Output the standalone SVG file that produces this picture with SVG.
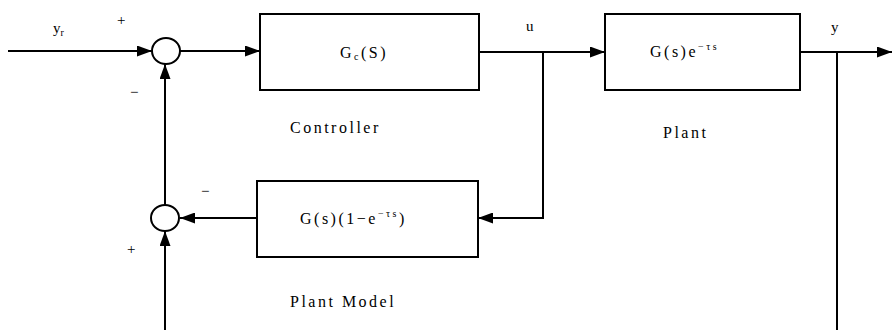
<svg xmlns="http://www.w3.org/2000/svg" width="892" height="330" viewBox="0 0 892 330">
<style>
.ln{stroke:#000;stroke-width:2;fill:none}
.bx{stroke:#000;stroke-width:2;fill:#fff}
.t{font-family:"Liberation Serif",serif;font-size:15px;fill:#000}
.b{font-family:"Liberation Serif",serif;font-size:16px;fill:#000;letter-spacing:2.5px}
.s{font-size:10px}
</style>
<defs>
<marker id="ar" viewBox="0 0 15 11" refX="15" refY="5.5" markerWidth="15" markerHeight="11" markerUnits="userSpaceOnUse" orient="auto">
<path d="M0,0 L15,5.5 L0,11 Z" fill="#000"/>
</marker>
</defs>
<rect width="892" height="330" fill="#fff"/>
<g id="connectors">
<line class="ln" x1="8" y1="51" x2="152" y2="51" marker-end="url(#ar)"/>
<line class="ln" x1="180" y1="51" x2="260" y2="51" marker-end="url(#ar)"/>
<line class="ln" x1="479" y1="52" x2="605" y2="52" marker-end="url(#ar)"/>
<line class="ln" x1="800" y1="52" x2="892" y2="52" marker-end="url(#ar)"/>
<polyline class="ln" points="543,52 543,218 478,218" marker-end="url(#ar)"/>
<line class="ln" x1="257" y1="218" x2="180" y2="218" marker-end="url(#ar)"/>
<line class="ln" x1="165" y1="205" x2="165" y2="64" marker-end="url(#ar)"/>
<line class="ln" x1="837" y1="52" x2="837" y2="330"/>
<line class="ln" x1="165" y1="330" x2="165" y2="231" marker-end="url(#ar)"/>
</g>
<g id="sum1">
<ellipse class="bx" cx="166" cy="51" rx="14" ry="13"/>
<text class="t" x="117" y="25">+</text>
<text class="t" x="130" y="97">−</text>
</g>
<g id="sum2">
<ellipse class="bx" cx="165" cy="218" rx="14" ry="13"/>
<text class="t" x="201" y="196">−</text>
<text class="t" x="127" y="254">+</text>
</g>
<g id="controller">
<rect class="bx" x="260" y="14" width="219" height="76"/>
<text class="b" x="340" y="58">G<tspan class="s" dy="2">c</tspan><tspan dy="-2">(S)</tspan></text>
<text class="b" x="290" y="133">Controller</text>
</g>
<g id="plant">
<rect class="bx" x="605" y="14" width="195" height="76"/>
<text class="b" x="650" y="57">G(s)e<tspan class="s" dy="-7">−τs</tspan></text>
<text class="b" x="663" y="138">Plant</text>
</g>
<g id="model">
<rect class="bx" x="257" y="181" width="221" height="76"/>
<text class="b" x="300" y="224">G(s)(1−e<tspan class="s" dy="-7">−τs</tspan><tspan dy="7">)</tspan></text>
<text class="b" x="290" y="307">Plant Model</text>
</g>
<g id="labels">
<text class="t" x="53" y="33">y<tspan class="s" dy="3">r</tspan></text>
<text class="t" x="526" y="31">u</text>
<text class="t" x="831" y="32">y</text>
</g>
</svg>
